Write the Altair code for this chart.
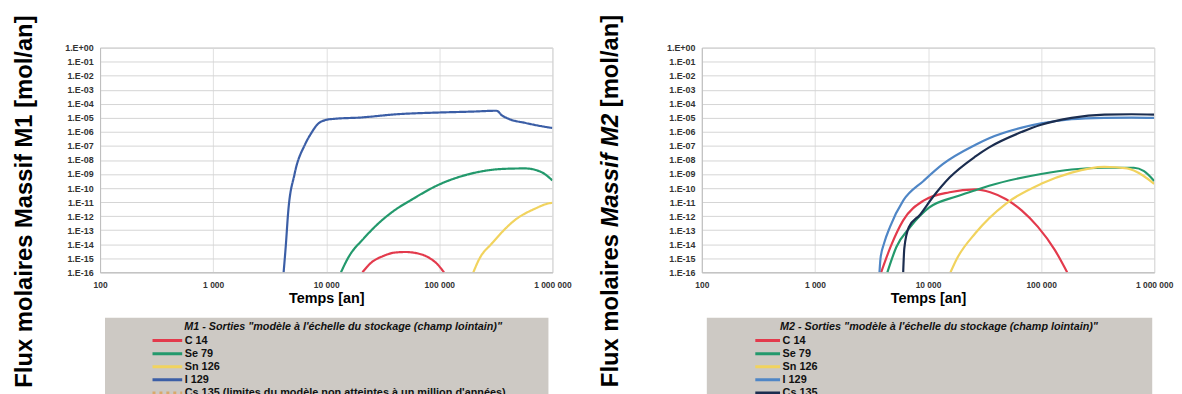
import altair as alt
import pandas as pd

# ---------------- data ----------------
x_tick_values = [100, 1000, 10000, 100000, 1000000]
x_tick_labels = ["100", "1 000", "10 000", "100 000", "1 000 000"]
y_tick_values = [1e0, 1e-1, 1e-2, 1e-3, 1e-4, 1e-5, 1e-6, 1e-7, 1e-8,
                 1e-9, 1e-10, 1e-11, 1e-12, 1e-13, 1e-14, 1e-15, 1e-16]
y_tick_labels = ["1.E+00", "1.E-01", "1.E-02", "1.E-03", "1.E-04", "1.E-05",
                 "1.E-06", "1.E-07", "1.E-08", "1.E-09", "1.E-10", "1.E-11",
                 "1.E-12", "1.E-13", "1.E-14", "1.E-15", "1.E-16"]

m1_series = ["C 14", "Se 79", "Sn 126", "I 129",
             "Cs 135 (limites du modèle non atteintes à un million d'années)"]
m2_series = ["C 14", "Se 79", "Sn 126", "I 129", "Cs 135"]

# Massif M1
m1_c14_t = [20900, 25100, 31600, 39800, 50100, 63100, 79400, 95500, 110000]
m1_c14_v = [1e-16, 5e-16, 1.4e-15, 2.5e-15, 2.8e-15, 2.3e-15, 1.2e-15, 4e-16, 1e-16]
m1_se79_t = [13500, 15800, 21400, 28200, 41700, 55000, 100000, 209000, 363000,
             575000, 794000, 1000000]
m1_se79_v = [1e-16, 1.26e-15, 2.5e-14, 2.5e-13, 3.2e-12, 1.26e-11, 1.8e-10,
             1.26e-9, 2.3e-9, 2.5e-9, 1.4e-9, 3.5e-10]
m1_sn126_t = [200000, 224000, 295000, 468000, 708000, 912000, 1000000]
m1_sn126_v = [1e-16, 8e-16, 1.26e-14, 5.4e-13, 3.5e-12, 7.9e-12, 8.9e-12]
m1_i129_t = [4200, 4400, 4600, 5250, 6500, 7400, 8300, 10000, 11700, 20000,
             42000, 100000, 200000, 320000, 360000, 410000, 580000, 810000, 1000000]
m1_i129_v = [1e-16, 1e-14, 1.6e-12, 1e-9, 1.3e-7, 8.5e-7, 3.2e-6, 7.2e-6,
             8.5e-6, 1.05e-5, 1.8e-5, 2.4e-5, 2.8e-5, 3.2e-5, 1.45e-5, 8.5e-6,
             4.3e-6, 2.5e-6, 1.9e-6]

# Massif M2
m2_c14_t = [3850, 4680, 6030, 9120, 15500, 26300, 35500, 49000, 67600, 93300,
            132000, 170000]
m2_c14_v = [1e-16, 7e-15, 5e-13, 1.26e-11, 5e-11, 8e-11, 5e-11, 1.6e-11,
            2.5e-12, 1.8e-13, 4e-15, 1e-16]
m2_se79_t = [4370, 5250, 6920, 10200, 17800, 26300, 34700, 100000, 186000,
             363000, 661000, 813000, 1000000]
m2_se79_v = [1e-16, 6.3e-15, 1.6e-13, 4e-12, 2.5e-11, 7e-11, 1.45e-10, 1e-9,
             2.1e-9, 2.8e-9, 2.8e-9, 1.6e-9, 3.2e-10]
m2_sn126_t = [15800, 17800, 26300, 49000, 100000, 186000, 363000, 575000,
              794000, 1000000]
m2_sn126_v = [1e-16, 7.9e-16, 6.3e-14, 7.9e-12, 2e-10, 1.26e-9, 3.2e-9,
              2.5e-9, 7.9e-10, 2e-10]
m2_i129_t = [3720, 3800, 4100, 4620, 6030, 9120, 13500, 26300, 34700, 67600,
             100000, 186000, 363000, 631000, 1000000]
m2_i129_v = [1e-16, 1e-15, 1.26e-14, 1.8e-13, 1.26e-11, 3.2e-10, 5e-9, 1.2e-7,
             3.5e-7, 2e-6, 4e-6, 7.9e-6, 1e-5, 1.05e-5, 1e-5]
m2_cs135_t = [6030, 6170, 6760, 8510, 11000, 15500, 26300, 34700, 67600,
              100000, 186000, 363000, 631000, 1000000]
m2_cs135_v = [1e-16, 5e-15, 1.6e-13, 1.26e-12, 2.2e-11, 5.6e-10, 1.8e-8,
              7.9e-8, 1e-6, 3.2e-6, 1e-5, 1.7e-5, 1.8e-5, 1.7e-5]

m1_colors = ["#e33a4c", "#23996c", "#f1d35e", "#3b5ea6", "#d9a86a"]
m2_colors = ["#e33a4c", "#23996c", "#f1d35e", "#4f86c6", "#1b2d4f"]
m1_dashes = [[1, 0], [1, 0], [1, 0], [1, 0], [3, 4]]

m1_legend_title = 'M1 - Sorties "modèle à l\'échelle du stockage (champ lointain)"'
m2_legend_title = 'M2 - Sorties "modèle à l\'échelle du stockage (champ lointain)"'
m1_y_title = "Flux molaires Massif M1 [mol/an]"
m2_y_title_parts = ["Flux molaires", "Massif M2", "[mol/an]"]


def frame(parts):
    rows = []
    for name, ts, vs in parts:
        for t, v in zip(ts, vs):
            rows.append({"serie": name, "t": t, "v": v})
    return pd.DataFrame(rows)


df1 = frame([(m1_series[0], m1_c14_t, m1_c14_v),
             (m1_series[1], m1_se79_t, m1_se79_v),
             (m1_series[2], m1_sn126_t, m1_sn126_v),
             (m1_series[3], m1_i129_t, m1_i129_v)])
df2 = frame([(m2_series[0], m2_c14_t, m2_c14_v),
             (m2_series[1], m2_se79_t, m2_se79_v),
             (m2_series[2], m2_sn126_t, m2_sn126_v),
             (m2_series[3], m2_i129_t, m2_i129_v),
             (m2_series[4], m2_cs135_t, m2_cs135_v)])

FONT = "Liberation Sans"
W, H = 457, 227

x_expr = "[" + ",".join("'%s'" % s for s in x_tick_labels) + "][round(log(datum.value)/LN10)-2]"
y_expr = "[" + ",".join("'%s'" % s for s in y_tick_labels) + "][-round(log(datum.value)/LN10)]"


def x_axis():
    return alt.Axis(values=x_tick_values, labelExpr=x_expr, title="Temps [an]",
                    titleFont=FONT, titleFontSize=14.5, titleFontWeight="bold",
                    titleColor="#000", titlePadding=3, labelFont=FONT,
                    labelFontSize=8.5, labelFontWeight="bold", labelColor="#333",
                    labelPadding=8, labelFlush=False, ticks=False,
                    domainColor="#bdbdbd", gridColor="#e0e0e0")


def y_axis(title, title_x):
    kw = dict(values=y_tick_values, labelExpr=y_expr,
              labelFont=FONT, labelFontSize=9, labelFontWeight="bold",
              labelColor="#333", labelPadding=7, labelOverlap=False,
              ticks=False, domainColor="#bdbdbd", gridColor="#d4d4d4")
    if title is None:
        return alt.Axis(title=None, **kw)
    return alt.Axis(title=title, titleFont=FONT, titleFontSize=24, titleFontWeight="bold",
                    titleColor="#000", titleAngle=270, titleAlign="center",
                    titleBaseline="middle", titleX=title_x, titleY=155, **kw)


def legend(lx, symlen):
    return alt.Legend(orient="none", legendX=lx, legendY=291, direction="vertical",
                      title=None, symbolType="stroke", symbolSize=symlen * symlen,
                      symbolStrokeWidth=3, clipHeight=10, rowPadding=2.2,
                      labelFont=FONT, labelFontSize=11, labelFontWeight="bold",
                      labelColor="#111", labelOffset=1, labelLimit=0, padding=0)


one = alt.Data(values=[{"k": 1}])


def panel(df, series, colors, dashes, ltitle, ytitle, title_x, lx, symlen, text_x, box_x2):
    box = alt.Chart(one).mark_rect(color="#cdc9c4").encode(
        x=alt.value(5), x2=alt.value(box_x2), y=alt.value(273), y2=alt.value(356))
    ttl = alt.Chart(one).mark_text(
        text=ltitle, align="left", baseline="middle", font=FONT, fontSize=10.9,
        fontStyle="italic", fontWeight="bold", color="#111"
    ).encode(x=alt.value(text_x), y=alt.value(282))
    enc = dict(
        x=alt.X("t:Q", scale=alt.Scale(type="log", domain=[100, 1000000]), axis=x_axis()),
        y=alt.Y("v:Q", scale=alt.Scale(type="log", domain=[1e-16, 1]),
                axis=y_axis(ytitle if isinstance(ytitle, str) else None, title_x)),
        color=alt.Color("serie:N", scale=alt.Scale(domain=series, range=colors),
                        legend=legend(lx, symlen)),
    )
    if dashes is not None:
        enc["strokeDash"] = alt.StrokeDash("serie:N", scale=alt.Scale(domain=series, range=dashes),
                                           legend=legend(lx, symlen))
    lines = alt.Chart(df).mark_line(strokeWidth=2.2, interpolate="monotone", clip=True).encode(**enc)
    layers = [box, ttl]
    if not isinstance(ytitle, str):
        # mixed-style rotated axis title: bold / bold italic / bold (spaces included in offsets)
        ys = [343, 181.6, 60.2]
        styles = ["normal", "italic", "normal"]
        for part, yy, st in zip(ytitle, ys, styles):
            layers.append(alt.Chart(one).mark_text(
                text=part, align="left", baseline="middle", angle=270, font=FONT,
                fontSize=24, fontWeight="bold", fontStyle=st, color="#000"
            ).encode(x=alt.value(title_x), y=alt.value(yy)))
    layers.append(lines)
    return alt.layer(*layers).properties(width=W, height=H)


p1 = panel(df1, m1_series, m1_colors, m1_dashes, m1_legend_title, m1_y_title, -76, 51.5, 30, 85, 453)
p2 = panel(df2, m2_series, m2_colors, None, m2_legend_title, m2_y_title_parts, -92, 52.5, 25, 79, 455)

chart = alt.hconcat(p1, p2, spacing=26).resolve_scale(
    color="independent", strokeDash="independent"
).resolve_legend(color="independent", strokeDash="independent").configure_view(
    stroke="#c4c4c4"
).properties(padding={"left": 4, "top": 4, "right": 0, "bottom": 0}, background="white")

chart.save("out.html", embed_options={"renderer": "svg", "actions": False})
